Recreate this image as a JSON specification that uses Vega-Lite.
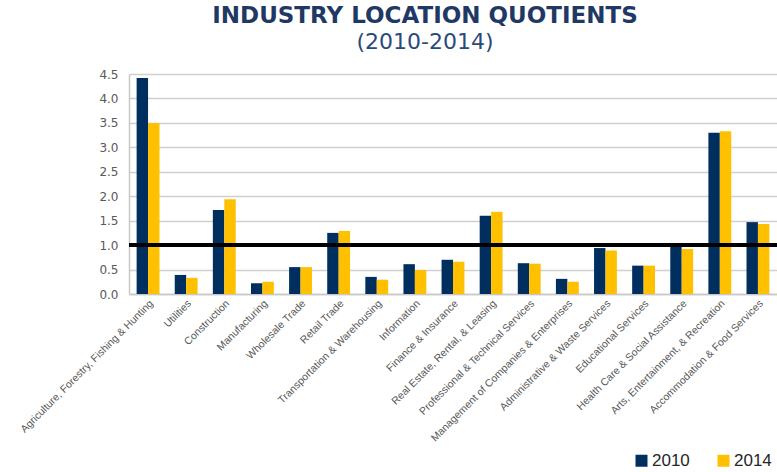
{
  "$schema": "https://vega.github.io/schema/vega-lite/v6.json",
  "autosize": {"type": "none"},
  "padding": {"left": 129, "top": 74, "right": 0, "bottom": 178},
  "width": 648,
  "height": 220,
  "background": "white",
  "title": {
    "text": "INDUSTRY LOCATION QUOTIENTS",
    "subtitle": "(2010-2014)",
    "anchor": "middle",
    "frame": "group",
    "dx": -28,
    "offset": 15,
    "font": "DejaVu Sans",
    "fontSize": 23,
    "fontWeight": "bold",
    "color": "#1f3864",
    "subtitleFont": "DejaVu Sans",
    "subtitleFontSize": 22,
    "subtitleColor": "#2a4a7a",
    "subtitlePadding": 4
  },
  "data": {
    "values": [
      {"industry": "Agriculture, Forestry, Fishing & Hunting", "year": "2010", "value": 4.42},
      {"industry": "Agriculture, Forestry, Fishing & Hunting", "year": "2014", "value": 3.5},
      {"industry": "Utilities", "year": "2010", "value": 0.39},
      {"industry": "Utilities", "year": "2014", "value": 0.33},
      {"industry": "Construction", "year": "2010", "value": 1.72},
      {"industry": "Construction", "year": "2014", "value": 1.94},
      {"industry": "Manufacturing", "year": "2010", "value": 0.22},
      {"industry": "Manufacturing", "year": "2014", "value": 0.25},
      {"industry": "Wholesale Trade", "year": "2010", "value": 0.55},
      {"industry": "Wholesale Trade", "year": "2014", "value": 0.55},
      {"industry": "Retail Trade", "year": "2010", "value": 1.25},
      {"industry": "Retail Trade", "year": "2014", "value": 1.29},
      {"industry": "Transportation & Warehousing", "year": "2010", "value": 0.35},
      {"industry": "Transportation & Warehousing", "year": "2014", "value": 0.29},
      {"industry": "Information", "year": "2010", "value": 0.61},
      {"industry": "Information", "year": "2014", "value": 0.49},
      {"industry": "Finance & Insurance", "year": "2010", "value": 0.70},
      {"industry": "Finance & Insurance", "year": "2014", "value": 0.66},
      {"industry": "Real Estate, Rental, & Leasing", "year": "2010", "value": 1.60},
      {"industry": "Real Estate, Rental, & Leasing", "year": "2014", "value": 1.68},
      {"industry": "Professional & Technical Services", "year": "2010", "value": 0.63},
      {"industry": "Professional & Technical Services", "year": "2014", "value": 0.62},
      {"industry": "Management of Companies & Enterprises", "year": "2010", "value": 0.31},
      {"industry": "Management of Companies & Enterprises", "year": "2014", "value": 0.25},
      {"industry": "Administrative & Waste Services", "year": "2010", "value": 0.94},
      {"industry": "Administrative & Waste Services", "year": "2014", "value": 0.89},
      {"industry": "Educational Services", "year": "2010", "value": 0.58},
      {"industry": "Educational Services", "year": "2014", "value": 0.58},
      {"industry": "Health Care & Social Assistance", "year": "2010", "value": 1.0},
      {"industry": "Health Care & Social Assistance", "year": "2014", "value": 0.92},
      {"industry": "Arts, Entertainment, & Recreation", "year": "2010", "value": 3.30},
      {"industry": "Arts, Entertainment, & Recreation", "year": "2014", "value": 3.33},
      {"industry": "Accommodation & Food Services", "year": "2010", "value": 1.47},
      {"industry": "Accommodation & Food Services", "year": "2014", "value": 1.43}
    ]
  },
  "config": {
    "view": {"stroke": null},
    "axisY": {
      "values": [0, 0.5, 1, 1.5, 2, 2.5, 3, 3.5, 4, 4.5],
      "format": ".1f",
      "labelOverlap": false,
      "labelFont": "DejaVu Sans",
      "labelFontSize": 12,
      "labelColor": "#595959",
      "labelPadding": 11,
      "ticks": false,
      "domainColor": "#c8c8c8",
      "domainWidth": 1.5,
      "gridColor": "#d0d0d0",
      "gridWidth": 1.5,
      "title": null
    }
  },
  "layer": [
    {
      "mark": {"type": "bar"},
      "encoding": {
        "x": {
          "field": "industry",
          "type": "nominal",
          "sort": null,
          "scale": {"paddingInner": 0.4, "paddingOuter": 0.2},
          "axis": {
            "title": null,
            "labelAngle": -45,
            "labelFont": "Liberation Sans",
            "labelFontSize": 10.5,
            "labelColor": "#595959",
            "labelPadding": 4,
            "labelLimit": 400,
            "ticks": false,
            "domainColor": "#c8c8c8",
            "domainWidth": 1.5
          }
        },
        "xOffset": {"field": "year", "type": "nominal"},
        "y": {
          "field": "value",
          "type": "quantitative",
          "scale": {"domain": [0, 4.5], "nice": false},
          "axis": {
            "title": null,
            "values": [0, 0.5, 1, 1.5, 2, 2.5, 3, 3.5, 4, 4.5],
            "format": ".1f",
            "labelOverlap": false
          }
        },
        "color": {
          "field": "year",
          "type": "nominal",
          "scale": {"domain": ["2010", "2014"], "range": ["#002f5f", "#ffc000"]},
          "legend": {
            "title": null,
            "orient": "none",
            "direction": "horizontal",
            "legendX": 504,
            "legendY": 378,
            "symbolType": "square",
            "symbolSize": 144,
            "symbolStrokeWidth": 0,
            "labelFont": "Liberation Sans",
            "labelFontSize": 17,
            "labelColor": "#262626",
            "columnPadding": 25,
            "labelOffset": 2,
            "padding": 0
          }
        }
      }
    },
    {
      "mark": {"type": "rule", "color": "black", "strokeWidth": 2.5},
      "encoding": {
        "y": {
          "datum": 1,
          "axis": {
            "title": null,
            "values": [0, 0.5, 1, 1.5, 2, 2.5, 3, 3.5, 4, 4.5],
            "format": ".1f",
            "labelOverlap": false
          }
        }
      }
    }
  ]
}
